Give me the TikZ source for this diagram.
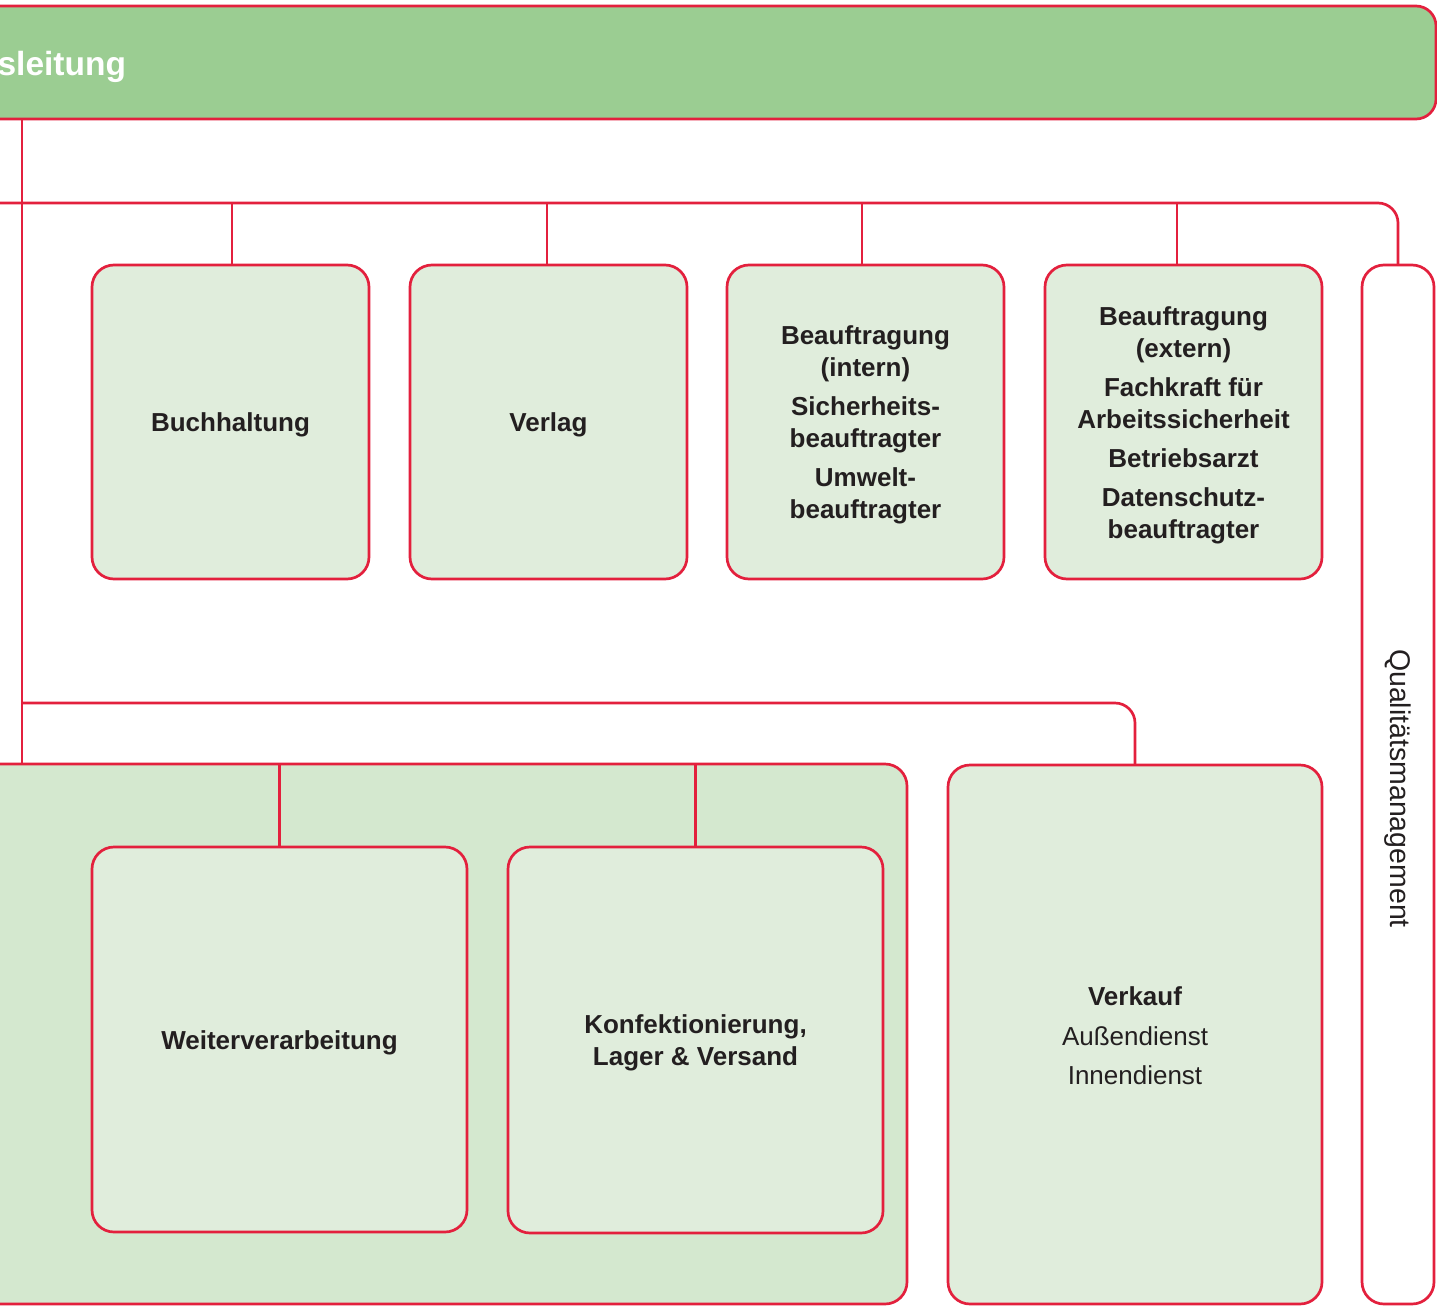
\documentclass[tikz,border=0pt]{standalone}
\usepackage{fontspec}
\setmainfont{Liberation Sans}
\definecolor{orgred}{HTML}{E3203D}
\definecolor{barfill}{HTML}{9BCD92}
\definecolor{boxfill}{HTML}{E0EDDC}
\definecolor{grpfill}{HTML}{D4E8CF}
\definecolor{txt}{HTML}{231F20}
\begin{document}
\begin{tikzpicture}[x=1pt,y=-1pt,
  every node/.style={inner sep=0pt, outer sep=0pt},
  orgbox/.style={draw=orgred, line width=2.7pt, fill=boxfill, rounded corners=22pt},
  lbl/.style={align=center, text=txt, font=\fontsize{26}{32}\selectfont\bfseries},
  link/.style={draw=orgred, line width=2.7pt}]
\clip (0,0) rectangle (1437,1306);
% top bar
\node[draw=orgred, line width=2.7pt, fill=barfill, rounded corners=20pt,
  minimum width=1736pt, minimum height=113pt] (bar) at (568,62.5) {};
\node[anchor=base east, text=white, font=\fontsize{33.5}{38}\selectfont\bfseries] (title) at (126,75) {sleitung};
% big production group
\node[draw=orgred, line width=2.7pt, fill=grpfill, rounded corners=22pt,
  minimum width=1207pt, minimum height=540pt] (prod) at (303.5,1034) {};
% top row boxes
\node[orgbox, minimum width=277pt, minimum height=314pt] (b1) at (230.5,422) {};
\node[orgbox, minimum width=277pt, minimum height=314pt] (b2) at (548.5,422) {};
\node[orgbox, minimum width=277pt, minimum height=314pt] (b3) at (865.5,422) {};
\node[orgbox, minimum width=277pt, minimum height=314pt] (b4) at (1183.5,422) {};
\node[lbl] (t1) at ([yshift=-3pt]b1.center) {Buchhaltung};
\node[lbl] (t2) at ([yshift=-3pt]b2.center) {Verlag};
\node[lbl] (t3) at ([yshift=-3pt]b3.center)
  {Beauftragung\\(intern)\\[7pt]Sicherheits-\\beauftragter\\[7pt]Umwelt-\\beauftragter};
\node[lbl] (t4) at ([yshift=-3pt]b4.center)
  {Beauftragung\\(extern)\\[7pt]Fachkraft für\\Arbeitssicherheit\\[7pt]Betriebsarzt\\[7pt]Datenschutz-\\beauftragter};
% quality management
\node[orgbox, fill=white, minimum width=72pt, minimum height=1039pt] (qm) at (1398,784.5) {};
\node[rotate=-90, text=txt, font=\fontsize{28.5}{32}\selectfont] (qmt) at ([yshift=-4pt]qm.center) {Qualitätsmanagement};
% bottom boxes
\node[orgbox, minimum width=375pt, minimum height=385pt] (w) at (279.5,1039.5) {};
\node[orgbox, minimum width=375pt, minimum height=386pt] (k) at (695.5,1040) {};
\node[orgbox, minimum width=374pt, minimum height=539pt] (v) at (1135,1034.5) {};
\node[lbl] (tw) at ([yshift=-3pt]w.center) {Weiterverarbeitung};
\node[lbl] (tk) at ([yshift=-3pt]k.center) {Konfektionierung,\\Lager \& Versand};
\node[lbl] (tv) at ([yshift=-1pt]v.center)
  {Verkauf\\[8pt]\mdseries Außendienst\\[7pt]\mdseries Innendienst};
% coordinates
\coordinate (trunk) at (22,0);
\coordinate (hl) at (-10,203);
\coordinate (hl2) at (22,703);
\coordinate (d1) at (232,0);
\coordinate (d2) at (547,0);
\coordinate (d3) at (862,0);
\coordinate (d4) at (1177,0);
% connectors
\draw[link] (bar.south -| trunk) -- (prod.north -| trunk);
\draw[link, rounded corners=20pt] (hl) -- (hl -| qm.north) -- (qm.north);
\draw[link] (hl -| d1) -- (b1.north -| d1);
\draw[link] (hl -| d2) -- (b2.north -| d2);
\draw[link] (hl -| d3) -- (b3.north -| d3);
\draw[link] (hl -| d4) -- (b4.north -| d4);
\draw[link, rounded corners=20pt] (hl2) -- (hl2 -| v.north) -- (v.north);
\draw[link] (prod.north -| w.north) -- (w.north);
\draw[link] (prod.north -| k.north) -- (k.north);
\end{tikzpicture}
\end{document}
